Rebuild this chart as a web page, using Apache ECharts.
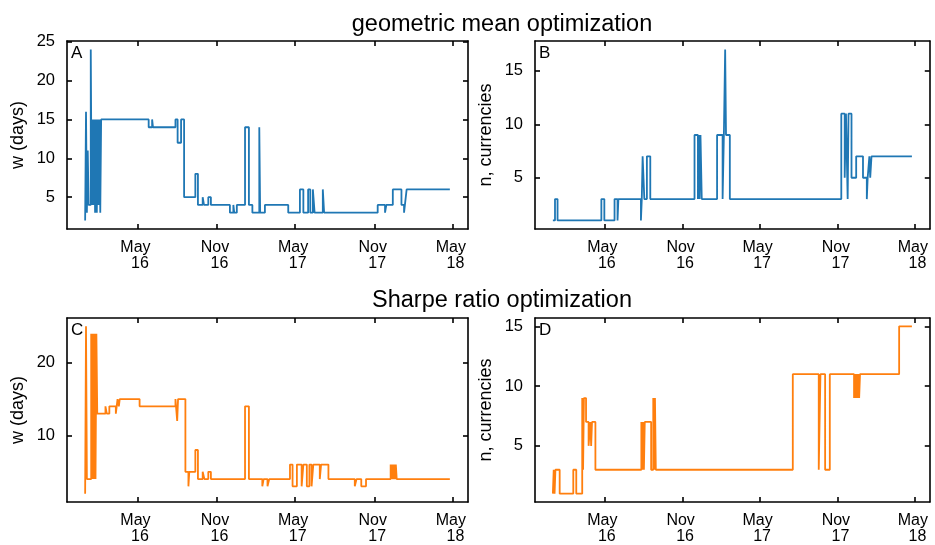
<!DOCTYPE html>
<html><head><meta charset="utf-8">
<script src="https://cdn.jsdelivr.net/npm/echarts@6/dist/echarts.min.js"></script>
<style>html,body{margin:0;padding:0;background:#fff}#c{width:935px;height:545px}</style>
</head><body><div id="c"></div>
<script>
// ---- data ----
const xTickDates = ['2016-05-01','2016-11-01','2017-05-01','2017-11-01','2018-05-01'];
const xTickLabels = ['May\n16','Nov\n16','May\n17','Nov\n17','May\n18'];
const xRange = ['2015-11-20','2018-06-05'];

const titles = ['geometric mean optimization', 'Sharpe ratio optimization'];
const panelLetters = ['A','B','C','D'];
const yNames = ['w (days)','n, currencies','w (days)','n, currencies'];
const yTicksA = [5,10,15,20,25];
const yTicksB = [5,10,15];
const yTicksC = [10,20];
const yTicksD = [5,10,15];
const yRangeA = [0.9, 25.1];
const yRangeB = [0.2, 17.8];
const yRangeC = [0.85, 26.15];
const yRangeD = [0.3, 15.7];

// geometric mean optimization: window w (days)
const wGeo = [
['2016-01-01',2],['2016-01-03',16],['2016-01-05',3],['2016-01-07',11],['2016-01-09',4],
['2016-01-14',24],['2016-01-16',4],['2016-01-18',15],['2016-01-20',4],['2016-01-22',15],
['2016-01-24',3],['2016-01-26',15],['2016-01-28',3],['2016-01-30',15],['2016-02-01',4],
['2016-02-03',15],['2016-02-05',3],['2016-02-07',15],
['2016-05-27',14],['2016-06-04',15],['2016-06-06',14],['2016-07-28',15],['2016-08-02',12],
['2016-08-10',15],['2016-08-17',5],['2016-09-12',8],['2016-09-18',4],['2016-09-29',5],
['2016-10-02',4],['2016-10-12',5],['2016-10-18',4],['2016-12-01',3],['2016-12-09',4],
['2016-12-11',3],['2016-12-17',4],['2017-01-05',14],['2017-01-14',4],['2017-01-22',3],
['2017-02-07',14],['2017-02-09',3],['2017-02-20',4],['2017-04-15',3],['2017-05-12',6],
['2017-05-20',3],['2017-05-31',6],['2017-06-05',3],['2017-06-11',6],['2017-06-15',3],
['2017-07-04',6],['2017-07-07',3],['2017-11-08',4],['2017-11-25',3],['2017-11-28',4],
['2017-12-13',6],['2018-01-02',4],['2018-01-08',3],['2018-01-10',4],['2018-01-14',6],
['2018-04-24',6]
];
// geometric mean optimization: number of currencies
const nGeo = [
['2016-01-01',1],['2016-01-06',3],['2016-01-12',1],['2016-04-24',3],['2016-05-01',1],
['2016-05-25',3],['2016-06-01',1],['2016-06-03',3],['2016-07-26',1],['2016-07-28',3],
['2016-07-30',7],['2016-08-03',3],['2016-08-09',7],['2016-08-17',3],['2016-11-29',9],
['2016-12-07',3],['2016-12-09',9],['2016-12-11',3],['2016-12-13',9],['2016-12-16',3],
['2017-01-21',9],['2017-02-03',3],['2017-02-06',9],['2017-02-09',17],['2017-02-11',9],
['2017-02-20',3],['2017-11-09',11],['2017-11-17',5],['2017-11-20',11],['2017-11-24',3],
['2017-11-26',11],['2017-12-03',5],['2017-12-14',7],['2017-12-30',5],['2018-01-08',3],
['2018-01-10',5],['2018-01-14',7],['2018-01-16',5],['2018-01-19',7],['2018-04-24',7]
];
// Sharpe ratio optimization: window w (days)
const wSharpe = [
['2016-01-01',2],['2016-01-03',25],['2016-01-05',4],['2016-01-15',24],['2016-01-17',4],
['2016-01-19',24],['2016-01-21',4],['2016-01-23',24],['2016-01-25',4],['2016-01-27',24],
['2016-01-29',13],['2016-02-17',14],['2016-02-20',13],['2016-02-26',14],['2016-03-12',13],
['2016-03-14',14],['2016-03-16',15],['2016-03-19',14],['2016-03-21',15],['2016-05-06',14],
['2016-07-28',15],['2016-08-01',12],['2016-08-03',15],['2016-08-20',5],['2016-08-27',3],
['2016-08-29',5],['2016-09-12',8],['2016-09-18',4],['2016-09-29',5],['2016-10-03',4],
['2016-10-12',5],['2016-10-18',4],['2017-01-05',14],['2017-01-14',4],['2017-02-14',3],
['2017-02-17',4],['2017-02-26',3],['2017-03-02',4],['2017-04-19',6],['2017-04-25',3],
['2017-05-05',6],['2017-05-16',3],['2017-05-20',6],['2017-05-28',3],['2017-06-03',6],
['2017-06-08',3],['2017-06-12',6],['2017-06-27',4],['2017-06-30',6],['2017-07-17',4],
['2017-09-16',3],['2017-09-20',4],['2017-10-01',3],['2017-10-12',4],['2017-12-08',6],
['2017-12-10',4],['2017-12-12',6],['2017-12-14',4],['2017-12-16',6],['2017-12-18',4],
['2017-12-20',6],['2017-12-22',4],['2018-04-24',4]
];
// Sharpe ratio optimization: number of currencies
const nSharpe = [
['2016-01-01',1],['2016-01-03',3],['2016-01-05',1],['2016-01-07',3],['2016-01-17',1],
['2016-02-18',3],['2016-02-25',1],['2016-03-10',9],['2016-03-12',3],['2016-03-14',9],
['2016-03-19',7],['2016-03-25',5],['2016-03-29',7],['2016-03-31',5],['2016-04-02',7],
['2016-04-10',3],['2016-07-27',7],['2016-07-29',3],['2016-07-31',7],['2016-08-02',3],
['2016-08-04',7],['2016-08-19',3],['2016-08-24',9],['2016-08-26',3],['2016-08-28',9],
['2016-08-30',3],['2017-07-18',11],['2017-09-17',3],['2017-09-21',11],['2017-10-02',3],
['2017-10-13',11],['2017-12-09',9],['2017-12-11',11],['2017-12-13',9],['2017-12-15',11],
['2017-12-17',9],['2017-12-19',11],['2017-12-21',9],['2017-12-23',11],['2018-03-25',15],
['2018-04-24',15]
];

// ---- chart ----
const FONT = "'Liberation Sans', Arial, sans-serif";
const BLUE = '#1f77b4', ORANGE = '#ff7f0e';
const ts = d => Date.parse(d);
const xTickTs = xTickDates.map(ts);

const grids = [
  {left: 67, top: 41, width: 401, height: 188},
  {left: 535, top: 41, width: 399, height: 188},
  {left: 67, top: 318, width: 401, height: 186},
  {left: 535, top: 318, width: 399, height: 186}
];
const panels = [
  {data: wGeo, ticks: yTicksA, range: yRangeA, color: BLUE},
  {data: nGeo, ticks: yTicksB, range: yRangeB, color: BLUE},
  {data: wSharpe, ticks: yTicksC, range: yRangeC, color: ORANGE},
  {data: nSharpe, ticks: yTicksD, range: yRangeD, color: ORANGE}
];

const axisLine = {show: true, onZero: false, lineStyle: {color: '#000', width: 1.6}};
const tickStyle = (vals) => ({show: true, inside: true, length: 5, customValues: vals, lineStyle: {color: '#000', width: 1.6}});
const labelRich = {
  a: {fontFamily: FONT, fontSize: 16, color: '#000', lineHeight: 16, padding: [0, 4, 0, 0]},
  b: {fontFamily: FONT, fontSize: 16, color: '#000', lineHeight: 16, padding: [0, 0, 0, 5]}
};

const xAxes = [], yAxes = [], series = [];
panels.forEach((p, i) => {
  const xBase = {type: 'value', gridIndex: i, min: ts(xRange[0]), max: ts(xRange[1]), scale: true,
    axisLine, splitLine: {show: false}, axisTick: tickStyle(xTickTs)};
  xAxes.push(Object.assign({}, xBase, {position: 'bottom',
    axisLabel: {show: true, customValues: xTickTs, margin: 11, fontFamily: FONT, fontSize: 16, color: '#000', lineHeight: 16,
      hideOverlap: false, rich: labelRich,
      formatter: (v) => {
        const k = xTickTs.indexOf(v);
        if (k < 0) return '';
        const parts = xTickLabels[k].split('\n');
        return '{a|' + parts[0] + '}\n{b|' + parts[1] + '}';
      }}}));
  xAxes.push(Object.assign({}, xBase, {position: 'top', axisLabel: {show: false}}));
  const yBase = {type: 'value', gridIndex: i, min: p.range[0], max: p.range[1],
    axisLine, splitLine: {show: false}, axisTick: tickStyle(p.ticks)};
  yAxes.push(Object.assign({}, yBase, {position: 'left',
    name: yNames[i], nameLocation: 'middle', nameGap: 40, nameRotate: 90,
    nameTextStyle: {fontFamily: FONT, fontSize: 18, color: '#000'},
    axisLabel: {show: true, customValues: p.ticks, margin: 12, fontFamily: FONT, fontSize: 16.5, color: '#000'}}));
  yAxes.push(Object.assign({}, yBase, {position: 'right', axisLabel: {show: false}}));
  series.push({type: 'line', step: 'end', xAxisIndex: 2 * i, yAxisIndex: 2 * i,
    showSymbol: false, symbol: 'none', color: p.color,
    lineStyle: {color: p.color, width: 1.8}, animation: false,
    data: p.data.map(d => [ts(d[0]), d[1]])});
});

const titleComps = [
  {text: titles[0], left: 497, top: 8, textAlign: 'center', textStyle: {fontFamily: FONT, fontSize: 23.5, fontWeight: 'normal', color: '#000'}},
  {text: titles[1], left: 497, top: 284, textAlign: 'center', textStyle: {fontFamily: FONT, fontSize: 23.5, fontWeight: 'normal', color: '#000'}}
];
const letterPos = [[71, 45], [539, 45], [71, 322], [539, 322]];
panelLetters.forEach((L, i) => {
  titleComps.push({text: L, left: letterPos[i][0], top: letterPos[i][1], padding: 0,
    textStyle: {fontFamily: FONT, fontSize: 17, fontWeight: 'normal', color: '#000'}});
});

const chart = echarts.init(document.getElementById('c'), null, {renderer: 'canvas'});
chart.setOption({
  animation: false,
  backgroundColor: '#fff',
  title: titleComps,
  grid: grids,
  xAxis: xAxes,
  yAxis: yAxes,
  series
});
</script>
</body></html>
